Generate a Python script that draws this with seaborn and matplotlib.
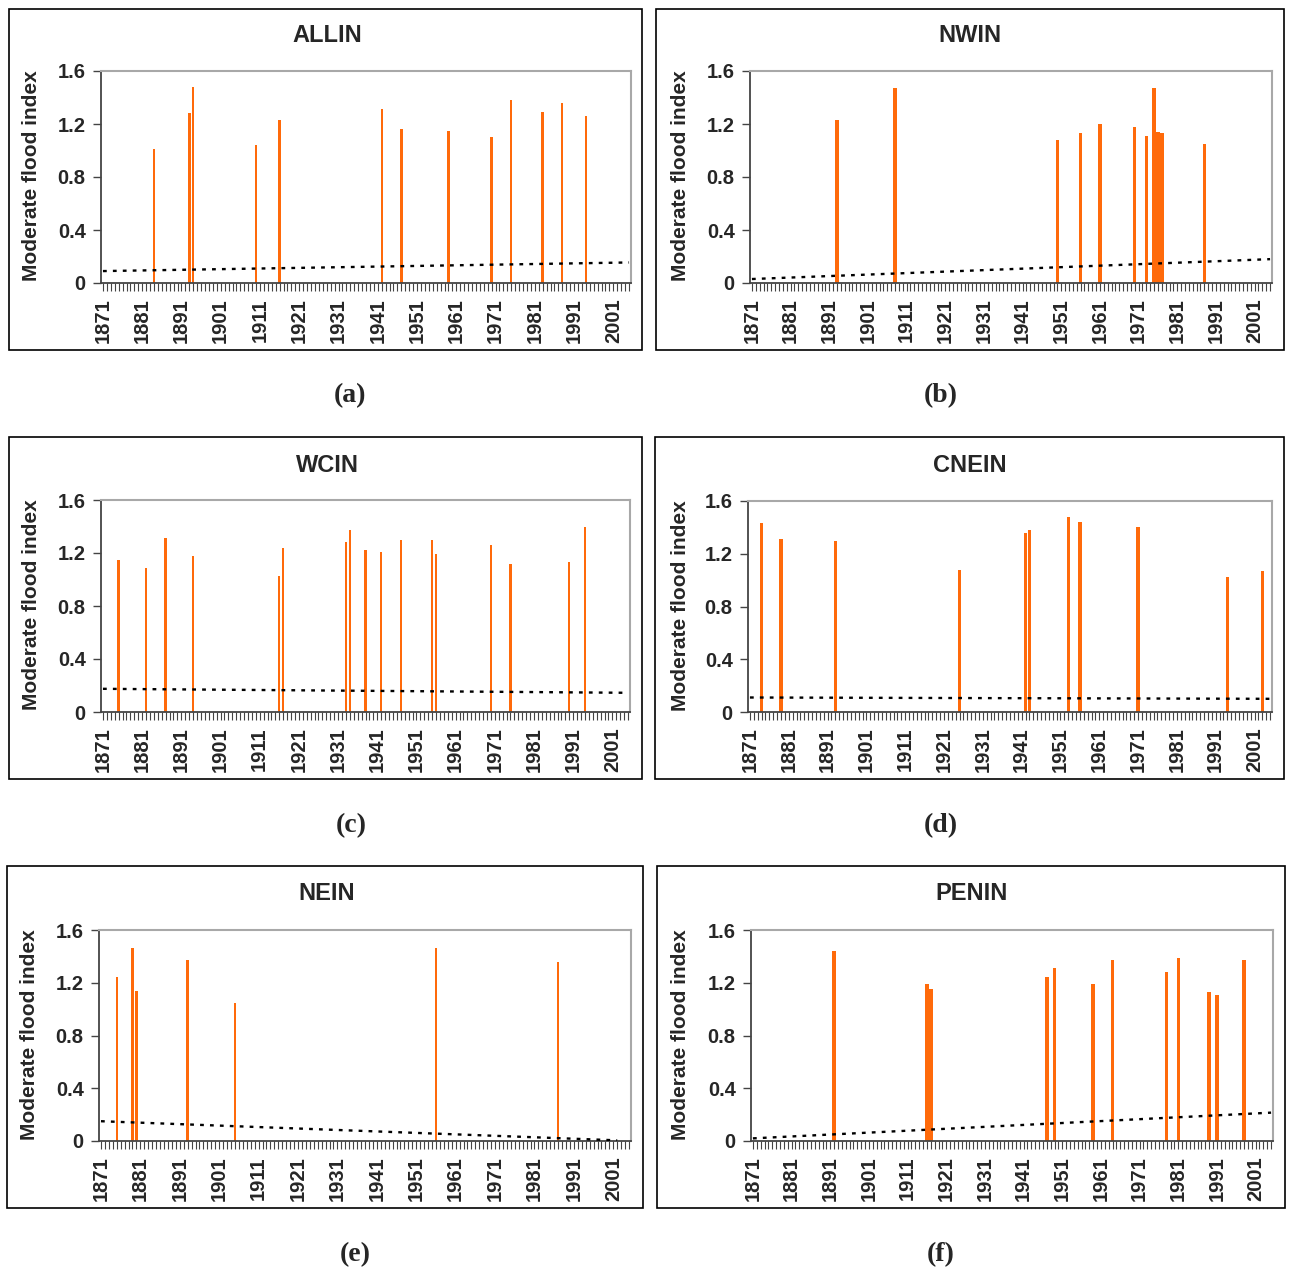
import matplotlib
matplotlib.use("Agg")
import matplotlib.pyplot as plt
from matplotlib.patches import Rectangle
from matplotlib.ticker import FixedLocator, MultipleLocator
import seaborn as sns
import pandas as pd

sns.set_style("white")
plt.rcParams['font.family'] = ['Liberation Sans', 'DejaVu Sans']

# ---------------- data ----------------
first_year, last_year = 1871, 2005
tick_years = [1871, 1881, 1891, 1901, 1911, 1921, 1931, 1941, 1951, 1961, 1971, 1981, 1991, 2001]
y_ticks = [0, 0.4, 0.8, 1.2, 1.6]
y_tick_labels = ["0", "0.4", "0.8", "1.2", "1.6"]

allin_years = [1884, 1893, 1894, 1910, 1916, 1942, 1947, 1959, 1970, 1975, 1983, 1988, 1994]
allin_vals = [1.01, 1.28, 1.48, 1.04, 1.23, 1.31, 1.16, 1.15, 1.10, 1.38, 1.29, 1.36, 1.26]
allin_trend_years = [1871, 2005]
allin_trend = [0.09, 0.155]

nwin_years = [1893, 1908, 1950, 1956, 1961, 1970, 1973, 1975, 1976, 1977, 1988]
nwin_vals = [1.23, 1.47, 1.08, 1.13, 1.20, 1.18, 1.11, 1.47, 1.14, 1.13, 1.05]
nwin_trend_years = [1871, 2005]
nwin_trend = [0.03, 0.18]

wcin_years = [1875, 1882, 1887, 1894, 1916, 1917, 1933, 1934, 1938, 1942, 1947, 1955, 1956, 1970, 1975, 1990, 1994]
wcin_vals = [1.15, 1.09, 1.31, 1.18, 1.03, 1.24, 1.28, 1.37, 1.22, 1.21, 1.30, 1.30, 1.19, 1.26, 1.12, 1.13, 1.40]
wcin_trend_years = [1871, 2005]
wcin_trend = [0.175, 0.145]

cnein_years = [1874, 1879, 1893, 1925, 1942, 1943, 1953, 1956, 1971, 1994, 2003]
cnein_vals = [1.43, 1.31, 1.30, 1.08, 1.36, 1.38, 1.48, 1.44, 1.40, 1.02, 1.07]
cnein_trend_years = [1871, 2005]
cnein_trend = [0.11, 0.10]

nein_years = [1875, 1879, 1880, 1893, 1905, 1956, 1987]
nein_vals = [1.24, 1.46, 1.135, 1.37, 1.05, 1.46, 1.36]
nein_trend_years = [1871, 2002]
nein_trend = [0.15, 0.005]

penin_years = [1892, 1916, 1917, 1947, 1949, 1959, 1964, 1978, 1981, 1989, 1991, 1998]
penin_vals = [1.44, 1.19, 1.155, 1.24, 1.31, 1.19, 1.37, 1.28, 1.39, 1.13, 1.11, 1.37]
penin_trend_years = [1871, 2005]
penin_trend = [0.02, 0.215]

titles = ["ALLIN", "NWIN", "WCIN", "CNEIN", "NEIN", "PENIN"]
captions = ["(a)", "(b)", "(c)", "(d)", "(e)", "(f)"]
ylabel_text = "Moderate flood index"

# ---------------- layout (pixels) ----------------
W, H = 1289, 1272
fig = plt.figure(figsize=(W / 100, H / 100), dpi=100)

panels = [
    dict(box=(9, 9, 642, 350), plot=(101, 71, 631, 283), title=(327, 36), ylab=32, cap=(350, 396), w=0.6,
         years=allin_years, vals=allin_vals, ty=allin_trend_years, tv=allin_trend),
    dict(box=(656, 9, 1284, 350), plot=(750, 71, 1272, 283), title=(970, 36), ylab=681, cap=(941, 396), w=0.9,
         years=nwin_years, vals=nwin_vals, ty=nwin_trend_years, tv=nwin_trend),
    dict(box=(9, 437, 642, 779), plot=(101, 500, 630, 712), title=(327, 465), ylab=32, cap=(351, 826), w=0.6,
         years=wcin_years, vals=wcin_vals, ty=wcin_trend_years, tv=wcin_trend),
    dict(box=(655, 437, 1284, 779), plot=(748, 501, 1272, 712), title=(970, 465), ylab=680, cap=(941, 826), w=0.85,
         years=cnein_years, vals=cnein_vals, ty=cnein_trend_years, tv=cnein_trend),
    dict(box=(7, 866, 643, 1208), plot=(99, 930, 631, 1141), title=(327, 894), ylab=30, cap=(355, 1255), w=0.6,
         years=nein_years, vals=nein_vals, ty=nein_trend_years, tv=nein_trend),
    dict(box=(657, 866, 1285, 1208), plot=(751, 930, 1273, 1141), title=(972, 894), ylab=681, cap=(941, 1255), w=0.9,
         years=penin_years, vals=penin_vals, ty=penin_trend_years, tv=penin_trend),
]

all_years = list(range(first_year, last_year + 1))
bar_color = "#FF6A0A"

def fx(x):
    return x / W

def fy(y):
    return 1 - y / H

for i, p in enumerate(panels):
    bx0, by0, bx1, by1 = p["box"]
    fig.patches.append(Rectangle((fx(bx0), fy(by1)), fx(bx1 - bx0), (by1 - by0) / H,
                                 transform=fig.transFigure, fill=False, edgecolor="black",
                                 linewidth=1.2, zorder=0))
    px0, py0, px1, py1 = p["plot"]
    ax = fig.add_axes([fx(px0), fy(py1), fx(px1 - px0), (py1 - py0) / H])

    df = pd.DataFrame({"year": p["years"], "value": p["vals"]})
    sns.barplot(data=df, x="year", y="value", order=all_years, color=bar_color,
                saturation=1, width=p["w"], errorbar=None, linewidth=0, ax=ax)

    tx = [all_years.index(y) for y in p["ty"]]
    ax.plot(tx, p["tv"], color="black", linewidth=1.7, linestyle=(0, (1.6, 2.6)), zorder=3)

    ax.set_xlim(-0.5, len(all_years) - 0.5)
    ax.set_ylim(0, 1.6)
    ax.set_xlabel("")
    ax.set_ylabel("")
    ax.xaxis.set_major_locator(FixedLocator([all_years.index(y) for y in tick_years]))
    ax.set_xticklabels([str(y) for y in tick_years], rotation=90, fontsize=14.5, fontweight="bold")
    ax.xaxis.set_minor_locator(MultipleLocator(1))
    ax.set_yticks(y_ticks)
    ax.set_yticklabels(y_tick_labels, fontsize=14.5, fontweight="bold")
    ax.tick_params(axis="x", which="both", direction="out", length=6, width=0.8,
                   color="#444444", bottom=True, pad=5)
    ax.tick_params(axis="y", which="major", direction="out", length=6, width=1.0,
                   color="#444444", left=True, pad=5)
    for side in ["left", "bottom"]:
        ax.spines[side].set_color("#444444")
        ax.spines[side].set_linewidth(1.3)
    for side in ["top", "right"]:
        ax.spines[side].set_color("#A8A8A8")
        ax.spines[side].set_linewidth(1.5)
    ax.grid(False)

    fig.text(fx(p["title"][0]), fy(p["title"][1]), titles[i], ha="center", va="center",
             fontsize=17, fontweight="bold")
    fig.text(fx(p["ylab"]), fy((py0 + py1) / 2 - 1), ylabel_text, rotation=90, ha="center", va="center",
             fontsize=15, fontweight="bold")
    fig.text(fx(p["cap"][0]), fy(p["cap"][1]), captions[i], ha="center", va="center",
             fontsize=20, fontweight="bold", family=["Liberation Serif", "DejaVu Serif"])

fig.savefig("out.png", dpi=100, facecolor="white")
